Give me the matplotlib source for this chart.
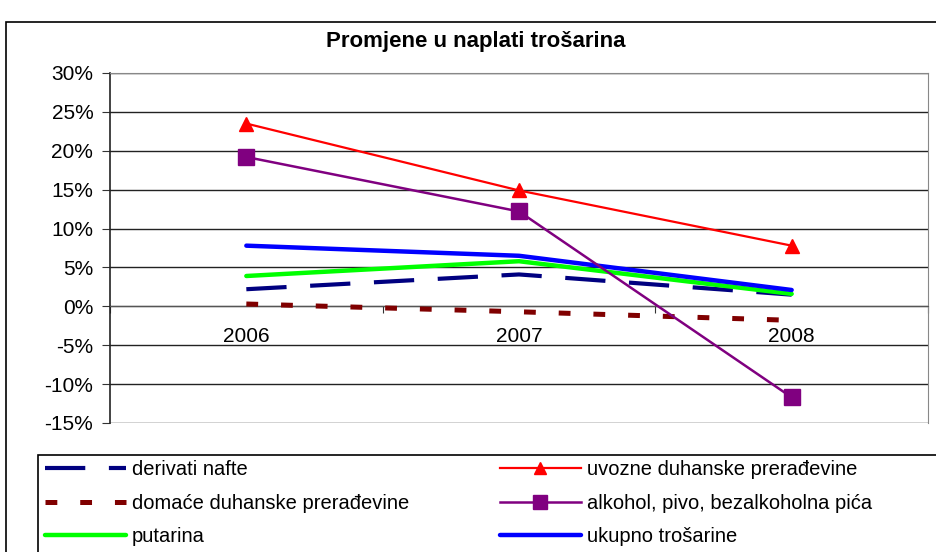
import matplotlib
matplotlib.use("Agg")
import matplotlib.pyplot as plt
from matplotlib.patches import Rectangle
from matplotlib.ticker import FuncFormatter, FixedLocator

plt.rcParams['font.family'] = ['Liberation Sans', 'DejaVu Sans']
plt.rcParams['lines.scale_dashes'] = False

years = ['2006', '2007', '2008']
derivati_nafte = [2.2, 4.1, 1.5]
uvozne_duhanske = [23.5, 14.9, 7.8]
domace_duhanske = [0.3, -0.7, -1.8]
alkohol_pivo = [19.2, 12.2, -11.7]
putarina = [3.9, 5.8, 1.6]
ukupno = [7.8, 6.5, 2.1]

labels = ['derivati nafte', 'uvozne duhanske prerađevine',
          'domaće duhanske prerađevine', 'alkohol, pivo, bezalkoholna pića',
          'putarina', 'ukupno trošarine']

W, H = 936, 552
fig = plt.figure(figsize=(W / 100, H / 100), dpi=100)

# outer chart border
fig.patches.append(Rectangle((6 / W, -0.1), 1.2, 1 - 22 / H + 0.1, transform=fig.transFigure,
                             fill=False, edgecolor='black', linewidth=1.2))

ax = fig.add_axes([110 / W, 1 - 423 / H, (928 - 110) / W, (423 - 73) / H])
x = list(range(len(years)))

h_der, = ax.plot(x, derivati_nafte, color='#000080', lw=3.0, dashes=(29, 17), zorder=3)
h_uvo, = ax.plot(x, uvozne_duhanske, color='#ff0000', lw=1.6, marker='^', markersize=10, zorder=4)
h_dom, = ax.plot(x, domace_duhanske, color='#800000', lw=3.6, dashes=(8.5, 16.5), zorder=3)
h_alk, = ax.plot(x, alkohol_pivo, color='#800080', lw=1.8, marker='s', markersize=12, zorder=4)
h_put, = ax.plot(x, putarina, color='#00ff00', lw=3.2, zorder=3, solid_capstyle='round')
h_uku, = ax.plot(x, ukupno, color='#0000ff', lw=3.2, zorder=3, solid_capstyle='round')

ax.set_xlim(-0.5, 2.5)
ax.set_ylim(-15, 30)
ax.yaxis.set_major_locator(FixedLocator(range(-15, 31, 5)))
ax.yaxis.set_major_formatter(FuncFormatter(lambda v, p: f"{int(v)}%"))
ax.grid(axis='y', color='#222222', lw=1.0)
ax.set_axisbelow(True)

ax.spines['bottom'].set_position(('data', 0))
ax.spines['bottom'].set_color('#555555')
ax.spines['top'].set_color('#888888')
ax.spines['right'].set_color('#888888')
ax.spines['left'].set_color('#222222')
ax.spines['left'].set_linewidth(1.2)

ax.set_xticks([-0.5, 0.5, 1.5, 2.5])
ax.set_xticklabels([])
ax.set_xticks(x, minor=True)
ax.set_xticklabels(years, minor=True)
ax.tick_params(axis='x', which='major', direction='out', length=5, color='#333333')
ax.tick_params(axis='x', which='minor', length=0, pad=15, labelsize=15)
ax.tick_params(axis='y', direction='out', length=6, pad=6, labelsize=15, color='#333333')

fig.text(476 / W, 1 - 41 / H, 'Promjene u naplati trošarina', ha='center', va='center',
         fontsize=16, fontweight='bold')

# legend box
fig.patches.append(Rectangle((38 / W, -0.1), 1.2, (1 - 455 / H) + 0.1, transform=fig.transFigure,
                             fill=False, edgecolor='black', linewidth=1.2))

kw = dict(frameon=False, loc='upper left', fontsize=14.5, handlelength=4.0,
          handletextpad=0.3, labelspacing=0.73, borderpad=0, borderaxespad=0,
          markerscale=0.85)
leg1 = fig.legend([h_der, h_dom, h_put], [labels[0], labels[2], labels[4]],
                  bbox_to_anchor=(45 / W, 1 - 460 / H), **kw)
leg2 = fig.legend([h_uvo, h_alk, h_uku], [labels[1], labels[3], labels[5]],
                  bbox_to_anchor=(500 / W, 1 - 460 / H), **kw)

fig.savefig('out.png', dpi=100)
